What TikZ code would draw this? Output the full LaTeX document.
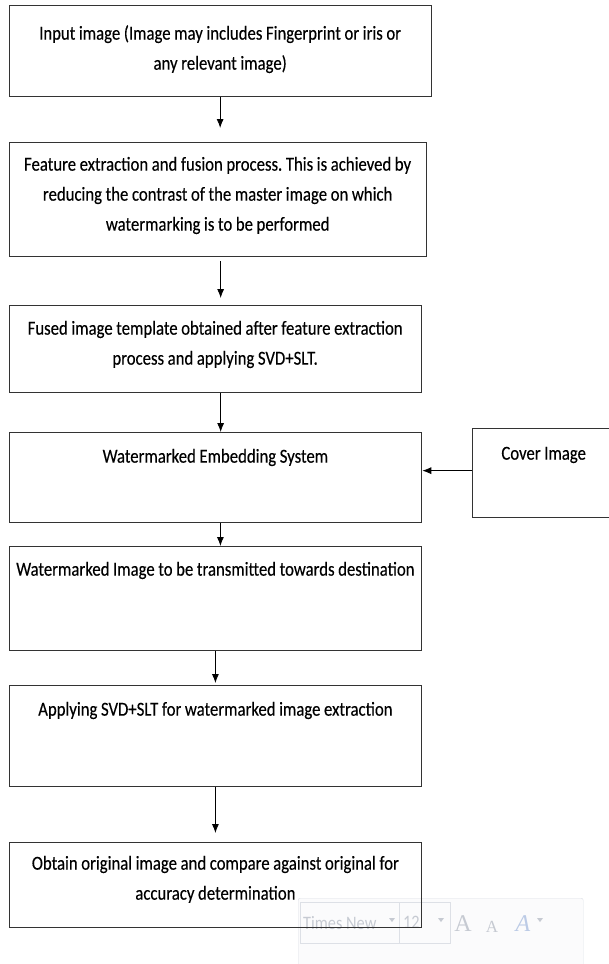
\documentclass[tikz,border=0pt]{standalone}
\usepackage{fontspec}
\setmainfont{Carlito}[FakeStretch=0.845, FakeBold=0.3]
\newfontfamily\tbserif{Liberation Serif}
\newfontfamily\tbsans{Carlito}[FakeStretch=0.86]
\usetikzlibrary{arrows.meta}

\definecolor{boxline}{HTML}{333333}
\definecolor{tbline}{HTML}{DDE0E6}
\definecolor{tbfill}{HTML}{FBFBFC}
\definecolor{tbtext}{HTML}{C6CAD2}
\definecolor{tbblue}{HTML}{BCCBE6}

\begin{document}
\begin{tikzpicture}
[
x=1pt, y=-1pt,
every node/.style={inner sep=0pt},
box/.style={draw=boxline, line width=1.3pt, align=center, anchor=north west,
  font=\fontsize{19.8}{30}\selectfont,
  execute at begin node={\spaceskip=3.6pt\relax\xspaceskip=3.6pt\relax}},
arr/.style={-{Latex[length=9pt,width=7pt]}, line width=0.8pt},
tbfield/.style={draw=tbline, anchor=north west, minimum height=41pt},
tbtxt/.style={text=tbtext, font=\tbsans\fontsize{19}{20}\selectfont}
]
\useasboundingbox (0,0) rectangle (608,964);

% faint mini toolbar of the editor, lying under the last box
\node[draw=tbline, fill=tbfill, rounded corners=2pt, anchor=north west,
  minimum width=285pt, minimum height=72pt] (mini) at (298,898) {};
\node[tbfield, minimum width=99pt] (fontfield) at (300,902) {};
\node[tbfield, minimum width=51pt] (sizefield) at (399,902) {};
\node[tbtxt, anchor=west] (fontname) at ([xshift=3pt]fontfield.west) {Times New};
\node[tbtxt, anchor=west] (fontsize) at ([xshift=4pt]sizefield.west) {12};
\node[text=tbtext, font=\tbserif\fontsize{24}{24}\selectfont] (growA) at (463,924) {A};
\node[text=tbtext, font=\tbserif\fontsize{17}{17}\selectfont] (shrinkA) at (492,927) {A};
\node[text=tbblue, font=\tbserif\itshape\fontsize{24}{24}\selectfont] (colorA) at (523,924) {A};
\fill[tbtext] (389,918) -- (395,918) -- (392,922) -- cycle;
\fill[tbtext] (438,918) -- (444,918) -- (441,922) -- cycle;
\fill[tbtext] (537,918) -- (543,918) -- (540,922) -- cycle;

% main flow
\node[box, text width=422pt, text height=34pt, text depth=57pt] (input) at (8.5,5)
  {Input image (Image may includes Fingerprint or iris or\\ any relevant image)};
\node[box, text width=417pt, text height=28pt, text depth=86pt] (feature) at (8.5,142)
  {Feature extraction and fusion process. This is achieved by\\ reducing the contrast of the master image on which\\ watermarking is to be performed};
\node[box, text width=412pt, text height=29pt, text depth=58pt] (fused) at (8.5,305)
  {Fused image template obtained after feature extraction\\ process and applying SVD+SLT.};
\node[box, text width=412.5pt, text height=30pt, text depth=60pt] (embed) at (8.5,432)
  {Watermarked Embedding System};
\node[box, text width=142pt, text height=31pt, text depth=58pt] (cover) at (472,428)
  {Cover Image};
\node[box, text width=412.5pt, text height=29pt, text depth=75pt] (transmit) at (8.5,546)
  {Watermarked Image to be transmitted towards destination};
\node[box, text width=412.5pt, text height=30pt, text depth=71pt] (extract) at (8.5,685)
  {Applying SVD+SLT for watermarked image extraction};
\node[box, text width=412.5pt, text height=27pt, text depth=58pt] (obtain) at (8.5,842)
  {Obtain original image and compare against original for\\ accuracy determination};

\draw[arr, shorten >=14pt] (input.south) -- (input.south |- feature.north);
\draw[arr, shorten <=4pt, shorten >=7pt] ([xshift=3pt]feature.south) -- ([xshift=3pt]feature.south |- fused.north);
\draw[arr] ([xshift=5.5pt]fused.south) -- ([xshift=5.5pt]fused.south |- embed.north);
\draw[arr] ([xshift=5pt]embed.south) -- ([xshift=5pt]embed.south |- transmit.north);
\draw[arr, shorten >=2pt] (transmit.south) -- (transmit.south |- extract.north);
\draw[arr, shorten >=9pt] (extract.south) -- (extract.south |- obtain.north);
\draw[arr] ([yshift=2.5pt]cover.west) -- ([yshift=2.5pt]cover.west -| embed.east);
\end{tikzpicture}
\end{document}
